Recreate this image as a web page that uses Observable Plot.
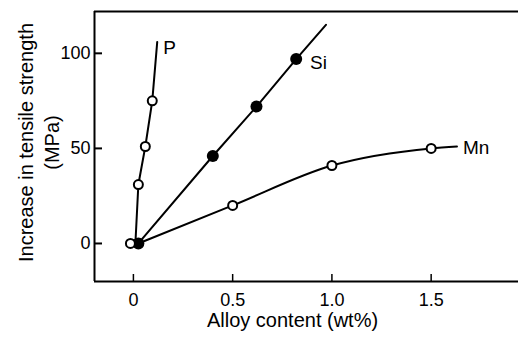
<!DOCTYPE html>
<html>
<head>
<meta charset="utf-8">
<script src="https://cdn.jsdelivr.net/npm/d3@7"></script>
<script src="https://cdn.jsdelivr.net/npm/@observablehq/plot@0.6"></script>
<style>
  html, body { margin: 0; padding: 0; background: #fff; }
  svg { display: block; }
</style>
</head>
<body>
<div id="chart"></div>
<script>
// ---- data ----
const xTicks = [0, 0.5, 1.0, 1.5];
const xTickLabels = ["0", "0.5", "1.0", "1.5"];
const yTicks = [0, 50, 100];
const xDomain = [-0.196, 1.94];
const yDomain = [-20, 122];

// phosphorus (open circles)
const pLineX = [0.01, 0.025, 0.06, 0.095, 0.12];
const pLineY = [0, 31, 51, 75, 106];
const pDotX = [-0.015, 0.025, 0.06, 0.095];
const pDotY = [0, 31, 51, 75];

// silicon (filled circles)
const siLineX = [0.025, 0.40, 0.62, 0.82, 0.97];
const siLineY = [0, 46, 72, 97, 115];
const siDotX = [0.025, 0.40, 0.62, 0.82];
const siDotY = [0, 46, 72, 97];

// manganese (open circles)
const mnLineX = [0.025, 0.50, 1.00, 1.50, 1.63];
const mnLineY = [0, 20, 41, 50, 51];
const mnDotX = [0.50, 1.00, 1.50];
const mnDotY = [20, 41, 50];

const seriesLabels = ["P", "Si", "Mn"];
const labelX = [0.15, 0.89, 1.66];
const labelY = [103, 95, 50.5];

const xTitle = "Alloy content (wt%)";
const yTitle = "Increase in tensile strength\n(MPa)";

// ---- build tables ----
const zip = (xs, ys) => xs.map((x, i) => ({x, y: ys[i]}));
const pLine = zip(pLineX, pLineY), siLine = zip(siLineX, siLineY), mnLine = zip(mnLineX, mnLineY);
const openDots = [...zip(pDotX, pDotY), ...zip(mnDotX, mnDotY)];
const filledDots = zip(siDotX, siDotY);
const labels = seriesLabels.map((t, i) => ({t, x: labelX[i], y: labelY[i]}));

const W = 519, H = 339, mL = 94, mR = 1, mT = 11, mB = 58;
const pw = W - mL - mR, ph = H - mT - mB;

const chart = Plot.plot({
  width: W, height: H,
  marginLeft: mL, marginRight: mR, marginTop: mT, marginBottom: mB,
  style: {fontFamily: "'Liberation Sans', Arial, sans-serif", background: "#fff", color: "#000"},
  x: {domain: xDomain},
  y: {domain: yDomain},
  marks: [
    // frame (left, top, bottom)
    Plot.ruleX([xDomain[0]], {stroke: "#000", strokeWidth: 2}),
    Plot.ruleY([yDomain[0], yDomain[1]], {stroke: "#000", strokeWidth: 2.2}),
    // inward ticks
    Plot.ruleY(yTicks, {stroke: "#000", strokeWidth: 2, insetRight: pw - 8}),
    Plot.ruleX(xTicks, {stroke: "#000", strokeWidth: 1.5, insetTop: ph - 7}),
    // tick labels
    Plot.axisY(yTicks, {tickSize: 0, tickPadding: 4, fontSize: 18, label: null}),
    Plot.axisX(xTicks, {tickSize: 0, tickPadding: 12, fontSize: 18, label: null,
      tickFormat: (d) => xTickLabels[xTicks.indexOf(d)]}),
    // series lines
    Plot.line(pLine, {x: "x", y: "y", stroke: "#000", strokeWidth: 2}),
    Plot.line(siLine, {x: "x", y: "y", stroke: "#000", strokeWidth: 2}),
    Plot.line(mnLine, {x: "x", y: "y", stroke: "#000", strokeWidth: 2, curve: "monotone-x"}),
    // markers
    Plot.dot(filledDots, {x: "x", y: "y", r: 6, fill: "#000", stroke: "none"}),
    Plot.dot(openDots, {x: "x", y: "y", r: 4.5, fill: "#fff", stroke: "#000", strokeWidth: 2}),
    // series labels
    Plot.text(labels, {x: "x", y: "y", text: "t", textAnchor: "start", fontSize: 19, fill: "#000"}),
    // axis titles
    Plot.text([xTitle], {frameAnchor: "bottom", lineAnchor: "middle", dx: -14, dy: 39, fontSize: 20, fill: "#000"}),
    Plot.text([yTitle], {frameAnchor: "left", textAnchor: "middle", lineAnchor: "middle", dx: -57, dy: -4, rotate: -90, fontSize: 20, lineHeight: 1.3, fill: "#000"})
  ]
});
document.getElementById("chart").append(chart);
</script>
</body>
</html>
